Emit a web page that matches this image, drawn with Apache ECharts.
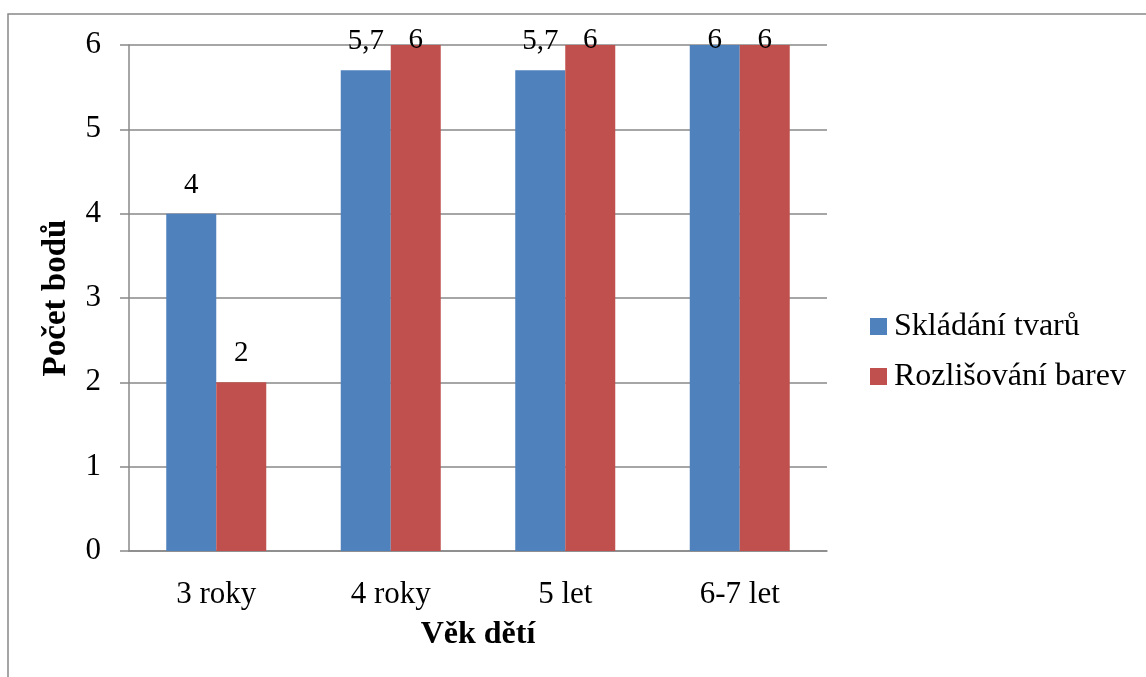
<!DOCTYPE html>
<html>
<head>
<meta charset="utf-8">
<script src="https://cdn.jsdelivr.net/npm/echarts@6/dist/echarts.min.js"></script>
<style>
  html, body { margin: 0; padding: 0; background: #fff; }
  #chart { width: 1146px; height: 677px; }
</style>
</head>
<body>
<div id="chart"></div>
<script>
const categories = ['3 roky', '4 roky', '5 let', '6-7 let'];
const seriesNames = ['Skládání tvarů', 'Rozlišování barev'];
const skladani = [4, 5.7, 5.7, 6];
const rozlisovani = [2, 6, 6, 6];
const yTicks = [0, 1, 2, 3, 4, 5, 6];

const FONT = 'Liberation Serif';
const yMax = yTicks[yTicks.length - 1];

function fmt(v) { return String(v).replace('.', ','); }
function items(arr) {
  return arr.map(v => ({ value: v, label: { offset: [0, v >= yMax ? 24 : 0] } }));
}

const chart = echarts.init(document.getElementById('chart'), null, { renderer: 'canvas' });
chart.setOption({
  animation: false,
  backgroundColor: '#fff',
  graphic: [{
    type: 'rect',
    shape: { x: 8, y: 14, width: 1300, height: 800 },
    style: { fill: 'none', stroke: '#888', lineWidth: 1.5 },
    silent: true, z: -1
  }],
  grid: { left: 129, right: 319, top: 45, bottom: 126, containLabel: false },
  legend: {
    orient: 'vertical',
    left: 870, top: 310, padding: 0,
    icon: 'rect', itemWidth: 17, itemHeight: 17, itemGap: 17,
    textStyle: { fontFamily: FONT, fontSize: 32, color: '#000', lineHeight: 33, padding: [0, 0, 0, 2] },
    data: seriesNames
  },
  xAxis: {
    type: 'category', data: categories,
    name: 'Věk dětí', nameLocation: 'middle', nameGap: 68,
    nameTextStyle: { fontFamily: FONT, fontSize: 32, fontWeight: 'bold', color: '#000', verticalAlign: 'top' },
    axisLine: { show: true, lineStyle: { color: '#888', width: 1.5 } },
    axisTick: { show: false },
    axisLabel: { fontFamily: FONT, fontSize: 31, color: '#000', margin: 28 },
    splitLine: { show: false }
  },
  yAxis: {
    type: 'value', min: 0, max: yMax, interval: 1,
    name: 'Počet bodů', nameLocation: 'middle', nameGap: 56, nameRotate: 90,
    nameTextStyle: { fontFamily: FONT, fontSize: 33, fontWeight: 'bold', color: '#000' },
    axisLine: { show: true, lineStyle: { color: '#888', width: 1.5 } },
    axisTick: { show: true, length: 9, lineStyle: { color: '#888', width: 1.5 } },
    axisLabel: { fontFamily: FONT, fontSize: 31, color: '#000', margin: 28,
      formatter: v => (yTicks.indexOf(v) >= 0 ? String(v) : '') },
    splitLine: { show: true, lineStyle: { color: '#888', width: 1.5 } }
  },
  series: [
    {
      name: seriesNames[0], type: 'bar', data: items(skladani),
      barWidth: 50, barGap: '0%',
      itemStyle: { color: '#4F81BD' },
      label: { show: true, position: 'top', distance: 14, fontFamily: FONT, fontSize: 29, color: '#000',
        formatter: p => fmt(p.value) }
    },
    {
      name: seriesNames[1], type: 'bar', data: items(rozlisovani),
      barWidth: 50, barGap: '0%',
      itemStyle: { color: '#C0504D' },
      label: { show: true, position: 'top', distance: 14, fontFamily: FONT, fontSize: 29, color: '#000',
        formatter: p => fmt(p.value) }
    }
  ]
});
</script>
</body>
</html>
